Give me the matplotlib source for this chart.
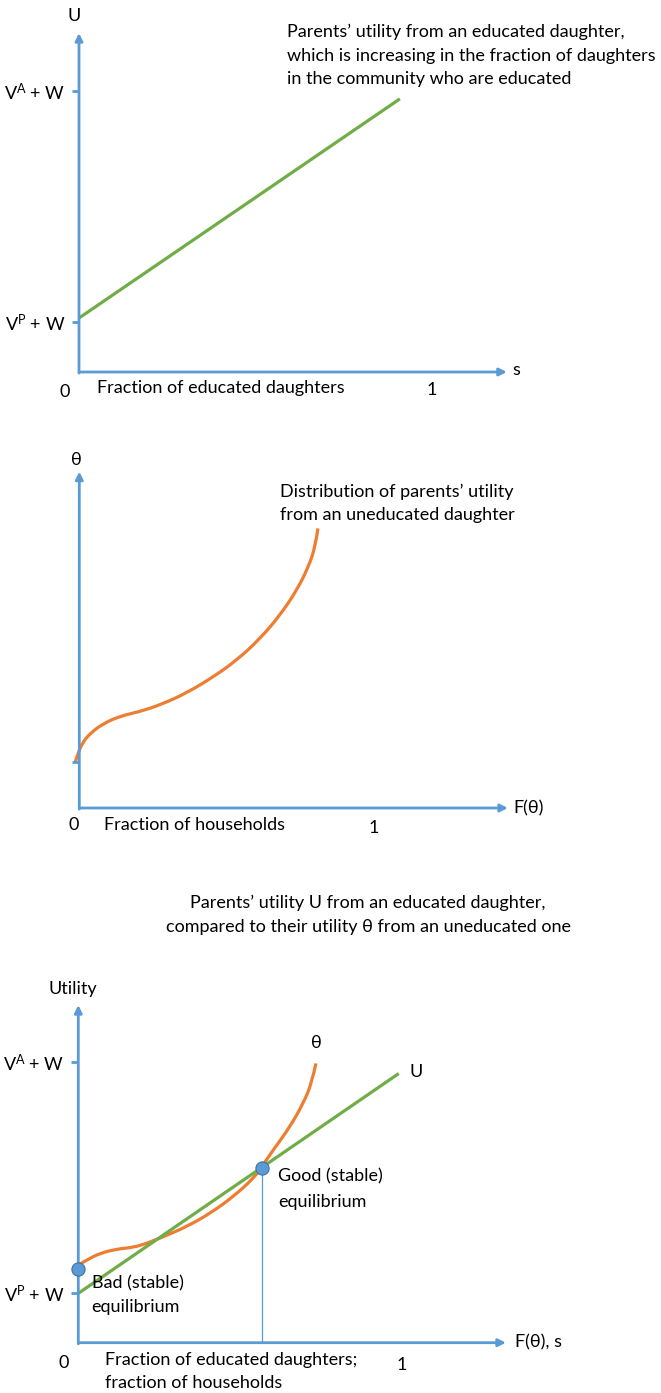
import numpy as np
import matplotlib
matplotlib.use("Agg")
import matplotlib.pyplot as plt
from matplotlib.path import Path
from matplotlib.patches import PathPatch

plt.rcParams['font.family'] = ['Lato', 'DejaVu Sans']
plt.rcParams['mathtext.fontset'] = 'custom'
plt.rcParams['mathtext.rm'] = 'Lato'
plt.rcParams['mathtext.it'] = 'Lato:italic'

BLUE = '#5B9BD5'
GREEN = '#70AD47'
ORANGE = '#ED7D31'
FS = 13

# panel 1: parents' utility from an educated daughter, U(s)
u1_s = [0.0, 0.909]
u1_val = [0.192, 0.972]
u1_ticks = [0.178, 1.0]
u_tick_labels = ['V$^{\\mathrm{P}}$ + W', 'V$^{\\mathrm{A}}$ + W']

# panel 2: distribution of utility from an uneducated daughter
th2_f = [-0.014, -0.008, 0.009, 0.037, 0.082, 0.139, 0.201, 0.275, 0.365,
         0.455, 0.535, 0.614, 0.681, 0.738, 0.777, 0.800, 0.809]
th2_val = [0.163, 0.183, 0.230, 0.266, 0.301, 0.327, 0.342, 0.367, 0.410,
           0.467, 0.527, 0.604, 0.687, 0.776, 0.859, 0.930, 0.995]
th2_tick = [0.164]

# panel 3: both together
u3_s = [0.0, 0.99]
u3_val = [0.176, 0.96]
u3_ticks = [0.176, 1.0]
th3_f = [0.0, 0.026, 0.067, 0.119, 0.170, 0.211, 0.263, 0.335, 0.407, 0.479,
         0.541, 0.567, 0.602, 0.654, 0.695, 0.721, 0.734]
th3_val = [0.277, 0.295, 0.319, 0.334, 0.340, 0.354, 0.378, 0.414, 0.461,
           0.521, 0.586, 0.628, 0.687, 0.770, 0.854, 0.925, 0.996]
eq_x = [0.0, 0.567]
eq_y = [0.262, 0.624]

W, H = 661, 1393
fig = plt.figure(figsize=(W / 100, H / 100), dpi=100)


def make_panel(ox, oy, xu, yu, xmax, ymax):
    # ox, oy: pixel position of the origin; xu, yu: pixels per data unit
    ax = fig.add_axes([ox / W, (H - oy) / H, xmax * xu / W, ymax * yu / H])
    ax.set_xlim(0, xmax)
    ax.set_ylim(0, ymax)
    for sp in ax.spines.values():
        sp.set_visible(False)
    ax.set_xticks([])
    ax.tick_params(axis='y', length=5, width=2, color=BLUE, pad=5,
                   labelsize=FS)
    arr = dict(arrowstyle='-|>', color=BLUE, lw=2, mutation_scale=11,
               shrinkA=0, shrinkB=0)
    ax.annotate('', xy=(xmax, 0), xytext=(0, 0), arrowprops=arr,
                annotation_clip=False)
    ax.annotate('', xy=(0, ymax), xytext=(0, -0.004), arrowprops=arr,
                annotation_clip=False)
    return ax


def smooth_curve(ax, xs, ys, color):
    # quadratic b-spline through the read points, drawn by the Path renderer
    pts = list(zip(xs, ys))
    verts = [pts[0]]
    codes = [Path.MOVETO]
    for i in range(1, len(pts) - 1):
        mid = ((pts[i][0] + pts[i + 1][0]) / 2, (pts[i][1] + pts[i + 1][1]) / 2)
        if i == len(pts) - 2:
            mid = pts[-1]
        verts += [pts[i], mid]
        codes += [Path.CURVE3, Path.CURVE3]
    ax.add_patch(PathPatch(Path(verts, codes), fill=False, edgecolor=color,
                           lw=2.3, capstyle='butt', clip_on=False))


# ---- panel 1
ax1 = make_panel(79, 372, 353, 281, 1.212, 1.206)
ax1.set_yticks(u1_ticks, u_tick_labels)
ax1.plot(u1_s, u1_val, color=GREEN, lw=2.3, solid_capstyle='butt')
ax1.text(-0.014, 1.267, 'U', ha='center', va='center', fontsize=FS)
ax1.text(1.227, 0.007, 's', ha='left', va='center', fontsize=FS)
ax1.text(-0.04, -0.071, '0', ha='center', va='center', fontsize=FS)
ax1.text(0.999, -0.064, '1', ha='center', va='center', fontsize=FS)
ax1.text(0.051, -0.057, 'Fraction of educated daughters', ha='left',
         va='center', fontsize=FS)
note1 = ['Parents\u2019 utility from an educated daughter,',
         'which is increasing in the fraction of daughters',
         'in the community who are educated']
for i, line in enumerate(note1):
    ax1.text(0.589, 1.210 - i * 0.084, line, ha='left', va='center',
             fontsize=FS)

# ---- panel 2
ax2 = make_panel(79.3, 808, 295, 281, 1.453, 1.197)
ax2.set_yticks(th2_tick, [''])
smooth_curve(ax2, th2_f, th2_val, ORANGE)
ax2.text(-0.011, 1.238, '\u03b8', ha='center', va='center', fontsize=FS)
ax2.text(1.47, 0.0, 'F(\u03b8)', ha='left', va='center', fontsize=FS)
ax2.text(-0.018, -0.06, '0', ha='center', va='center', fontsize=FS)
ax2.text(0.999, -0.07, '1', ha='center', va='center', fontsize=FS)
ax2.text(0.083, -0.06, 'Fraction of households', ha='left', va='center',
         fontsize=FS)
note2 = ['Distribution of parents\u2019 utility',
         'from an uneducated daughter']
for i, line in enumerate(note2):
    ax2.text(0.68, 1.125 - i * 0.082, line, ha='left', va='center',
             fontsize=FS)

# ---- title between panels 2 and 3
fig.text(368 / W, 1 - 903 / H,
         'Parents\u2019 utility U from an educated daughter,',
         ha='center', va='center', fontsize=FS)
fig.text(368 / W, 1 - 927 / H,
         'compared to their utility \u03b8 from an uneducated one',
         ha='center', va='center', fontsize=FS)

# ---- panel 3
ax3 = make_panel(78.3, 1342.7, 323.7, 280.4, 1.321, 1.204)
ax3.set_yticks(u3_ticks, u_tick_labels)
ax3.plot(u3_s, u3_val, color=GREEN, lw=2.3, solid_capstyle='butt')
smooth_curve(ax3, th3_f, th3_val, ORANGE)
ax3.plot([eq_x[1], eq_x[1]], [0, eq_y[1]], color=BLUE, lw=0.9)
ax3.plot(eq_x, eq_y, 'o', ms=9.5, color=BLUE, mec='#41719C', mew=0.8,
         clip_on=False, zorder=5)
ax3.text(-0.016, 1.263, 'Utility', ha='center', va='center', fontsize=FS)
ax3.text(1.349, 0.0, 'F(\u03b8), s', ha='left', va='center', fontsize=FS)
ax3.text(-0.044, -0.072, '0', ha='center', va='center', fontsize=FS)
ax3.text(1.0, -0.08, '1', ha='center', va='center', fontsize=FS)
ax3.text(0.083, -0.062, 'Fraction of educated daughters;', ha='left',
         va='center', fontsize=FS)
ax3.text(0.083, -0.144, 'fraction of households', ha='left', va='center',
         fontsize=FS)
ax3.text(0.736, 1.068, '\u03b8', ha='center', va='center', fontsize=FS)
ax3.text(1.045, 0.967, 'U', ha='center', va='center', fontsize=FS)
ax3.text(0.618, 0.592, 'Good (stable)', ha='left', va='center', fontsize=FS)
ax3.text(0.618, 0.503, 'equilibrium', ha='left', va='center', fontsize=FS)
ax3.text(0.041, 0.212, 'Bad (stable)', ha='left', va='center', fontsize=FS)
ax3.text(0.041, 0.128, 'equilibrium', ha='left', va='center', fontsize=FS)

fig.savefig('out.png', dpi=100, facecolor='white')
